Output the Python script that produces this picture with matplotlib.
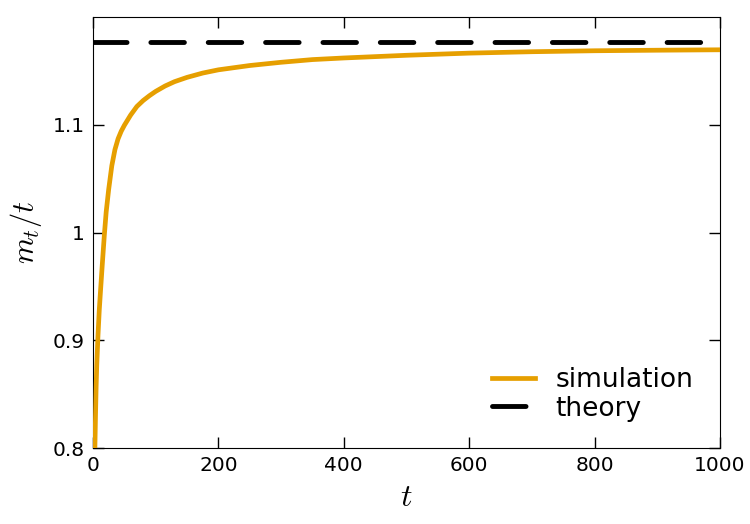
import matplotlib
matplotlib.use("Agg")
import matplotlib.pyplot as plt
from matplotlib.ticker import FuncFormatter

# values
t_sim = [3, 4, 5, 6, 8, 10, 12, 15, 18, 21, 25, 30, 35, 40, 45, 50, 60, 70,
         80, 90, 100, 115, 130, 150, 175, 200, 250, 300, 350, 400, 500, 600,
         700, 800, 900, 1000]
m_sim = [0.800, 0.830, 0.857, 0.877, 0.905, 0.928, 0.946, 0.972, 0.997,
         1.019, 1.040, 1.062, 1.077, 1.087, 1.094, 1.0995, 1.109, 1.117,
         1.1225, 1.127, 1.131, 1.136, 1.140, 1.144, 1.148, 1.151, 1.155,
         1.158, 1.1605, 1.162, 1.1645, 1.1665, 1.1678, 1.1687, 1.1692, 1.1696]
theory_value = 1.177
t_range = [0, 1000]

plt.rcParams["mathtext.fontset"] = "cm"

fig = plt.figure(figsize=(7.5, 5.24), dpi=100)
ax = fig.add_axes([0.124, 0.145, 0.836, 0.8225])

ax.plot(t_sim, m_sim, color="#E69F00", lw=3.4, label="simulation", zorder=3,
        solid_joinstyle="round")
ax.plot(t_range, [theory_value, theory_value], color="black", lw=3.5,
        dashes=(6.9, 4.9), dash_capstyle="round", solid_capstyle="round",
        label="theory")

ax.set_xlim(0, 1000)
ax.set_ylim(0.8, 1.2)
ax.set_xticks([0, 200, 400, 600, 800, 1000])
ax.set_yticks([0.8, 0.9, 1.0, 1.1])
ax.yaxis.set_major_formatter(FuncFormatter(lambda v, p: f"{v:g}"))
ax.tick_params(direction="in", top=True, right=True, length=8, width=1,
               labelsize=14.5, pad=6)

ax.set_xlabel("$t$", fontsize=23, labelpad=5)
ax.set_ylabel("$m_t/t$", fontsize=22, labelpad=6)

ax.legend(loc="lower right", frameon=False, fontsize=19, handlelength=1.6,
          borderaxespad=0.6, labelspacing=0.1, handletextpad=0.8)

plt.savefig("out.png", dpi=100)
plt.close()
